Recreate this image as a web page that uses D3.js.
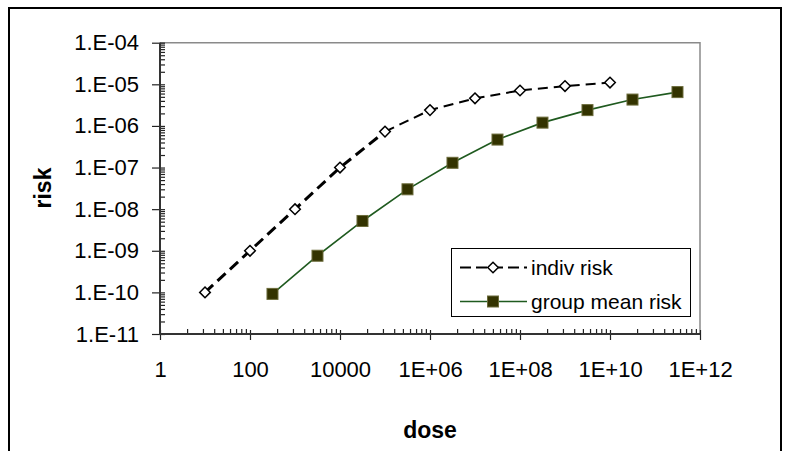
<!DOCTYPE html>
<html>
<head>
<meta charset="utf-8">
<script src="https://cdn.jsdelivr.net/npm/d3@7"></script>
<style>
  html, body { margin: 0; padding: 0; background: #fff; }
  svg { display: block; font-family: "Liberation Sans", Arial, sans-serif; }
</style>
</head>
<body>
<svg id="chart" width="790" height="451"></svg>
<script>
// ---- data ----
const seriesNames = ["indiv risk", "group mean risk"];
const indivDose = [1e1, 1e2, 1e3, 1e4, 1e5, 1e6, 1e7, 1e8, 1e9, 1e10];
const indivRisk = [1.0e-10, 1.0e-9, 1.0e-8, 1.0e-7, 7.3e-7, 2.4e-6, 4.6e-6, 7.1e-6, 9.1e-6, 1.1e-5];
const groupDose = [3.16e2, 3.16e3, 3.16e4, 3.16e5, 3.16e6, 3.16e7, 3.16e8, 3.16e9, 3.16e10, 3.16e11];
const groupRisk = [9.2e-11, 7.6e-10, 5.2e-9, 3.0e-8, 1.3e-7, 4.7e-7, 1.2e-6, 2.4e-6, 4.3e-6, 6.5e-6];
const xTickValues = [1, 1e2, 1e4, 1e6, 1e8, 1e10, 1e12];
const xTickLabels = ["1", "100", "10000", "1E+06", "1E+08", "1E+10", "1E+12"];
const yTickValues = [1e-4, 1e-5, 1e-6, 1e-7, 1e-8, 1e-9, 1e-10, 1e-11];
const yTickLabels = ["1.E-04", "1.E-05", "1.E-06", "1.E-07", "1.E-08", "1.E-09", "1.E-10", "1.E-11"];
const xTitle = "dose";
const yTitle = "risk";

// ---- layout ----
const plot = { left: 160, right: 700, top: 42.7, bottom: 334 };
const svg = d3.select("#chart");

// outer frame
svg.append("path")
  .attr("d", "M9,455 V8 H781 V455")
  .attr("fill", "none").attr("stroke", "#000").attr("stroke-width", 2);

const x = d3.scaleLog().domain([1, 1e12]).range([plot.left, plot.right]);
const y = d3.scaleLog().domain([1e-11, 1e-4]).range([plot.bottom, plot.top]);

// minor tick values (base-100 axis: minor ticks at k^2 * 100^n)
const xMinor = [];
for (let e = 0; e < 12; e += 2) for (let k = 2; k <= 9; k++) xMinor.push(k * k * Math.pow(10, e));
const yMinor = [];
for (let e = -11; e < -4; e++) for (let k = 2; k <= 9; k++) yMinor.push(k * Math.pow(10, e));

// plot frame top/right (gray)
svg.append("path")
  .attr("d", `M${plot.left},${plot.top} H${plot.right} V${plot.bottom}`)
  .attr("fill", "none").attr("stroke", "#8a8a8a").attr("stroke-width", 1.5);

// ---- X axis ----
const gxMinor = svg.append("g").attr("transform", `translate(0,${plot.bottom})`)
  .call(d3.axisTop(x).tickValues(xMinor).tickSize(5).tickFormat(""));
const gxMajorIn = svg.append("g").attr("transform", `translate(0,${plot.bottom})`)
  .call(d3.axisTop(x).tickValues(xTickValues).tickSize(4).tickFormat(""));
const gx = svg.append("g").attr("transform", `translate(0,${plot.bottom})`)
  .call(d3.axisBottom(x).tickValues(xTickValues).tickSize(6).tickPadding(21)
    .tickFormat((d, i) => xTickLabels[i]));
[gxMinor, gxMajorIn, gx].forEach(g => {
  g.select(".domain").remove();
  g.selectAll("line").attr("stroke", "#222").attr("stroke-width", 1.2);
});
gx.selectAll("text").attr("font-size", 22).attr("fill", "#000")
  .attr("font-family", "Liberation Sans, Arial, sans-serif");

// ---- Y axis ----
const gyMinor = svg.append("g").attr("transform", `translate(${plot.left},0)`)
  .call(d3.axisRight(y).tickValues(yMinor).tickSize(5).tickFormat(""));
const gyMajorIn = svg.append("g").attr("transform", `translate(${plot.left},0)`)
  .call(d3.axisRight(y).tickValues(yTickValues).tickSize(5).tickFormat(""));
const gy = svg.append("g").attr("transform", `translate(${plot.left},0)`)
  .call(d3.axisLeft(y).tickValues(yTickValues).tickSize(8).tickPadding(13)
    .tickFormat((d, i) => yTickLabels[i]));
[gyMinor, gyMajorIn, gy].forEach(g => {
  g.select(".domain").remove();
  g.selectAll("line").attr("stroke", "#222").attr("stroke-width", 1.2);
});
gy.selectAll("text").attr("font-size", 22).attr("fill", "#000")
  .attr("font-family", "Liberation Sans, Arial, sans-serif");

// axis lines
svg.append("path")
  .attr("d", `M${plot.left},${plot.top} V${plot.bottom} H${plot.right}`)
  .attr("fill", "none").attr("stroke", "#333").attr("stroke-width", 2);

// ---- series ----
const indiv = indivDose.map((d, i) => ({ x: d, y: indivRisk[i] }));
const group = groupDose.map((d, i) => ({ x: d, y: groupRisk[i] }));
const line = d3.line().x(d => x(d.x)).y(d => y(d.y));

svg.append("path").datum(group).attr("d", line)
  .attr("fill", "none").attr("stroke", "#1f5a1f").attr("stroke-width", 1.6);

svg.append("path").datum(indiv.slice(0, 5)).attr("d", line)
  .attr("fill", "none").attr("stroke", "#000").attr("stroke-width", 3)
  .attr("stroke-dasharray", "11,6");
svg.append("path").datum(indiv.slice(4)).attr("d", line)
  .attr("fill", "none").attr("stroke", "#000").attr("stroke-width", 2)
  .attr("stroke-dasharray", "10,6");

const sq = 11;
svg.append("g").selectAll("rect").data(group).join("rect")
  .attr("x", d => x(d.x) - sq / 2).attr("y", d => y(d.y) - sq / 2)
  .attr("width", sq).attr("height", sq)
  .attr("fill", "#333300").attr("stroke", "#6b6b3a").attr("stroke-width", 1);

const dia = 5.3;
const diamondPath = (cx, cy) => `M${cx},${cy - dia} L${cx + dia},${cy} L${cx},${cy + dia} L${cx - dia},${cy} Z`;
svg.append("g").selectAll("path").data(indiv).join("path")
  .attr("d", d => diamondPath(x(d.x), y(d.y)))
  .attr("fill", "#fff").attr("stroke", "#000").attr("stroke-width", 1.5);

// ---- titles ----
svg.append("text").attr("x", 430).attr("y", 438).attr("text-anchor", "middle")
  .attr("font-size", 23).attr("font-weight", "bold").text(xTitle);
svg.append("text").attr("transform", "translate(51,188) rotate(-90)").attr("text-anchor", "middle")
  .attr("font-size", 23).attr("font-weight", "bold").text(yTitle);

// ---- legend ----
const lg = svg.append("g");
lg.append("rect").attr("x", 451.5).attr("y", 248.5).attr("width", 239).attr("height", 68)
  .attr("fill", "#fff").attr("stroke", "#000").attr("stroke-width", 1);
const legendRows = [
  { name: seriesNames[0], cy: 267.5, type: "indiv" },
  { name: seriesNames[1], cy: 301.5, type: "group" }
];
legendRows.forEach(r => {
  if (r.type === "indiv") {
    lg.append("line").attr("x1", 460).attr("x2", 527).attr("y1", r.cy).attr("y2", r.cy)
      .attr("stroke", "#000").attr("stroke-width", 2).attr("stroke-dasharray", "11,5");
    lg.append("path").attr("d", diamondPath(493, r.cy))
      .attr("fill", "#fff").attr("stroke", "#000").attr("stroke-width", 1.5);
  } else {
    lg.append("line").attr("x1", 460).attr("x2", 527).attr("y1", r.cy).attr("y2", r.cy)
      .attr("stroke", "#1f5a1f").attr("stroke-width", 1.6);
    lg.append("rect").attr("x", 493 - sq / 2).attr("y", r.cy - sq / 2).attr("width", sq).attr("height", sq)
      .attr("fill", "#333300").attr("stroke", "#6b6b3a").attr("stroke-width", 1);
  }
  lg.append("text").attr("x", 531).attr("y", r.cy).attr("dy", "0.36em")
    .attr("font-size", 21).attr("fill", "#000").text(r.name);
});
</script>
</body>
</html>
